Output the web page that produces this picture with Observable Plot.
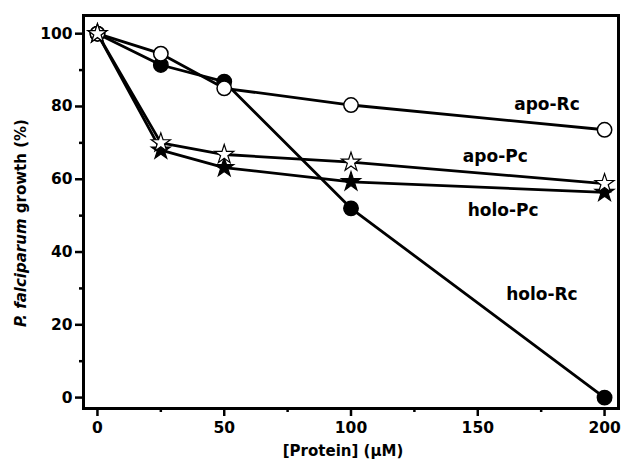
<!DOCTYPE html>
<html>
<head>
<meta charset="utf-8">
<script src="https://cdn.jsdelivr.net/npm/d3@7"></script>
<script src="https://cdn.jsdelivr.net/npm/@observablehq/plot@0.6"></script>
<style>
  html, body { margin: 0; padding: 0; background: #fff; }
  #chart { width: 622px; height: 466px; }
</style>
</head>
<body>
<div id="chart"></div>
<script>
const conc = [0, 25, 50, 100, 200];
const holoRc = [100, 91.4, 86.8, 52.0, 0];
const apoRc = [100, 94.5, 85.0, 80.4, 73.6];
const apoPc = [100, 70.0, 66.8, 64.7, 58.8];
const holoPc = [100, 68.0, 63.2, 59.3, 56.4];

const labelText = ["apo-Rc", "apo-Pc", "holo-Pc", "holo-Rc"];
const labelX = [177.3, 156.9, 160, 175.3];
const labelY = [80.5, 66.2, 51.4, 28.3];

const xMajor = [0, 50, 100, 150, 200];
const xMinor = [25, 75, 125, 175];
const yMajor = [0, 20, 40, 60, 80, 100];
const yMinor = [10, 30, 50, 70, 90];

const mk = (name, vals) => conc.map((c, i) => ({series: name, x: c, y: vals[i]}));
const dHoloRc = mk("holo-Rc", holoRc);
const dApoRc = mk("apo-Rc", apoRc);
const dHoloPc = mk("holo-Pc", holoPc);
const dApoPc = mk("apo-Pc", apoPc);
const all = [...dHoloRc, ...dApoRc, ...dHoloPc, ...dApoPc];
const labels = labelText.map((t, i) => ({t, x: labelX[i], y: labelY[i]}));

const FONT = "'DejaVu Sans', sans-serif";

const plot = Plot.plot({
  width: 622,
  height: 466,
  marginLeft: 83,
  marginRight: 4,
  marginTop: 15,
  marginBottom: 58,
  style: {fontFamily: FONT, fontWeight: "bold", fontSize: "15px", color: "black", background: "white"},
  x: {domain: [-5.5, 205.5]},
  y: {domain: [-3, 105]},
  marks: [
    Plot.axisY({ticks: yMajor, tickSize: 8, tickPadding: 3, strokeWidth: 2.5, label: null, fontSize: 15.5, fontWeight: "bold", fill: "black", stroke: "black"}),
    Plot.axisY({ticks: yMinor, tickSize: 4, tickFormat: () => "", strokeWidth: 2.5, label: null}),
    Plot.axisX({ticks: xMajor, tickSize: 8, tickPadding: 5, strokeWidth: 2.5, label: null, fontSize: 15.5, fontWeight: "bold", fill: "black", stroke: "black"}),
    Plot.axisX({ticks: xMinor, tickSize: 4, tickFormat: () => "", strokeWidth: 2.5, label: null}),
    Plot.frame({stroke: "black", strokeWidth: 3}),
    Plot.line(all, {x: "x", y: "y", z: "series", stroke: "black", strokeWidth: 2.8}),
    Plot.dot(dHoloRc, {x: "x", y: "y", r: 7.2, fill: "black", stroke: "black", strokeWidth: 1.5}),
    Plot.dot(dApoRc, {x: "x", y: "y", r: 7.2, fill: "white", stroke: "black", strokeWidth: 1.5}),
    Plot.dot(dHoloPc, {x: "x", y: "y", r: 6, symbol: "star", fill: "black", stroke: "black", strokeWidth: 1.2}),
    Plot.dot(dApoPc, {x: "x", y: "y", r: 6, symbol: "star", fill: "white", stroke: "black", strokeWidth: 1.2}),
    Plot.text(labels, {x: "x", y: "y", text: "t", fontSize: 17, fontWeight: "bold", fill: "black", fontFamily: FONT})
  ]
});

document.getElementById("chart").appendChild(plot);

const svg = d3.select(plot);
const yl = svg.append("text")
  .attr("transform", "translate(26,223) rotate(-90)")
  .attr("text-anchor", "middle")
  .attr("font-family", FONT)
  .attr("font-weight", "bold")
  .attr("font-size", 15)
  .attr("fill", "black");
yl.append("tspan").attr("font-style", "italic").text("P. falciparum");
yl.append("tspan").text(" growth (%)");

svg.append("text")
  .attr("x", 343)
  .attr("y", 456)
  .attr("text-anchor", "middle")
  .attr("font-family", FONT)
  .attr("font-weight", "bold")
  .attr("font-size", 15)
  .attr("fill", "black")
  .text("[Protein] (μM)");
</script>
</body>
</html>
